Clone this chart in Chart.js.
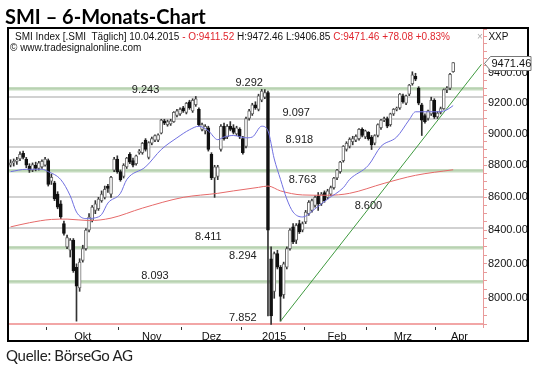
<!DOCTYPE html>
<html>
<head>
<meta charset="utf-8">
<script src="https://cdn.jsdelivr.net/npm/chart.js@4.4.1/dist/chart.umd.min.js"></script>
<style>
  body { margin: 0; background: #fff; }
  #wrap { position: relative; width: 540px; height: 365px; overflow: hidden; }
  #smiChart { position: absolute; left: 0; top: 0; }
  .txt { position: absolute; white-space: pre; line-height: 1; }
  #title { left: 5px; top: 4px; font: bold 20px Lato, sans-serif; color: #000; }
  #head1 { left: 15px; top: 31px; font: 10px "Liberation Sans", Arial, sans-serif; color: #111; }
  #head2 { left: 10px; top: 42px; font: 10px "Liberation Sans", Arial, sans-serif; color: #111; }
  #xxp { left: 477px; top: 31px; font: 10px "Liberation Sans", Arial, sans-serif; color: #111; }
  #xxp .x { color: #aaa; }
  #source { left: 6px; top: 346px; font: 15px Lato, sans-serif; color: #222; letter-spacing: -0.3px; }
  .red { color: #e0262e; }
</style>
</head>
<body>
<div id="wrap">
  <canvas id="smiChart" width="540" height="365"></canvas>
  <div id="title" class="txt">SMI – 6-Monats-Chart</div>
  <div id="head1" class="txt">SMI Index [.SMI  Täglich] 10.04.2015 <span class="red">- O:9411.52</span> H:9472.46 L:9406.85 <span class="red">C:9471.46 +78.08 +0.83%</span></div>
  <div id="head2" class="txt">© www.tradesignalonline.com</div>
  <div id="xxp" class="txt"><span class="x">×</span>  XXP</div>
  <div id="source" class="txt">Quelle: BörseGo AG</div>
</div>
<script>
// --- Handelstage (Kategorien) ---
const monthNames = ['', 'Okt', 'Nov', 'Dez', '2015', 'Feb', 'Mrz', 'Apr'];
const monthNums = ['09', '10', '11', '12', '01', '02', '03', '04'];
const monthDays = [
  [15,16,17,18,19,22,23,24,25,26,29,30],
  [1,2,3,6,7,8,9,10,13,14,15,16,17,20,21,22,23,24,27,28,29,30,31],
  [3,4,5,6,7,10,11,12,13,14,17,18,19,20,21,24,25,26,27,28],
  [1,2,3,4,5,8,9,10,11,12,15,16,17,18,19,22,23,29,30],
  [5,6,7,8,9,12,13,14,15,16,19,20,21,22,23,26,27,28,29,30],
  [2,3,4,5,6,9,10,11,12,13,16,17,18,19,20,23,24,25,26,27],
  [2,3,4,5,6,9,10,11,12,13,16,17,18,19,20,23,24,25,26,27,30,31],
  [1,2,7,8,9,10,13,14,15,16,17,20,21,22,23]
];

// --- Kerzen (OHLC) ---
const opens = [
  8800,8815,8825,8840,8875,8840,8795,8770,8800,8780,
  8790,8800,8830,8700,8690,8620,8560,8440,8300,8280,
  8340,8180,8060,8220,8290,8400,8460,8520,8530,8580,
  8600,8670,8620,8770,8840,8760,8730,8790,8870,8830,
  8810,8880,8880,8960,8850,8940,8960,8960,9005,9085,
  9060,9065,9080,9120,9130,9170,9140,9210,9150,9190,
  9160,9030,9020,9040,8870,8720,8730,8900,9050,8980,
  9050,9040,9000,9030,8970,8920,9100,9130,9190,9160,
  9220,9240,9270,8230,8040,8260,8180,8020,8180,8290,
  8420,8340,8440,8400,8450,8500,8520,8550,8610,8560,
  8630,8600,8620,8660,8720,8760,8830,8900,8920,8950,
  8960,8970,9030,8980,9010,8980,8940,8990,9040,9090,
  9100,9060,9130,9160,9170,9250,9200,9260,9330,9380,
  9300,9190,9120,9100,9130,9220,9110,9140,9165,9290,
  9300,9411.52
];
const highs = [
  8835,8840,8850,8885,8890,8850,8810,8815,8820,8825,
  8835,8850,8840,8745,8700,8635,8580,8455,8370,8350,
  8350,8200,8230,8310,8410,8500,8550,8580,8600,8640,
  8670,8680,8730,8850,8860,8770,8810,8850,8880,8845,
  8865,8900,8945,8970,8950,8980,8995,9000,9095,9095,
  9090,9095,9145,9160,9170,9180,9205,9220,9230,9245,
  9170,9070,9060,9050,8880,8800,8800,9060,9070,9060,
  9080,9060,9050,9040,8985,9110,9160,9200,9210,9260,
  9292,9290,9280,8300,8270,8280,8190,8210,8300,8410,
  8440,8440,8460,8450,8520,8580,8590,8610,8630,8630,
  8640,8650,8670,8725,8775,8825,8925,8950,8975,8985,
  8995,9035,9040,9025,9015,8990,8995,9065,9095,9110,
  9110,9135,9165,9175,9265,9260,9255,9325,9410,9400,
  9310,9200,9130,9155,9240,9230,9145,9175,9295,9310,
  9400,9472.46
];
const lows = [
  8790,8795,8805,8830,8840,8785,8755,8760,8765,8770,
  8780,8795,8670,8680,8580,8530,8470,8370,8290,8240,
  8150,7870,8040,8210,8280,8390,8450,8500,8520,8570,
  8590,8630,8600,8760,8750,8700,8720,8780,8810,8790,
  8800,8870,8870,8890,8840,8930,8950,8950,9000,9060,
  9050,9055,9075,9110,9120,9140,9130,9160,9140,9180,
  9050,9020,9000,8890,8710,8600,8710,8890,8960,8970,
  9020,9000,8990,8970,8870,8910,9090,9120,9160,9150,
  9210,9230,7900,7852,8000,8170,7870,8000,8170,8280,
  8320,8320,8380,8390,8440,8490,8510,8540,8520,8550,
  8570,8590,8610,8650,8710,8750,8820,8890,8910,8930,
  8950,8960,8980,8970,8960,8900,8930,8980,9030,9080,
  9040,9050,9120,9150,9160,9200,9190,9250,9320,9350,
  9190,8990,9070,9090,9120,9100,9100,9130,9160,9270,
  9290,9406.85
];
const closes = [
  8815,8825,8835,8870,8850,8800,8770,8805,8780,8815,
  8825,8840,8680,8725,8590,8540,8480,8380,8355,8340,
  8160,8070,8210,8290,8400,8480,8540,8560,8590,8620,
  8650,8655,8725,8840,8760,8710,8800,8845,8820,8800,
  8860,8890,8940,8900,8945,8970,8990,8995,9090,9070,
  9080,9085,9140,9150,9160,9150,9200,9170,9220,9230,
  9060,9060,9050,8900,8720,8790,8790,9050,8970,9050,
  9030,9010,9040,8980,8880,9100,9150,9190,9170,9250,
  9280,9270,8400,7900,8260,8180,8010,8200,8290,8400,
  8330,8430,8390,8440,8510,8570,8580,8600,8560,8620,
  8580,8640,8660,8720,8770,8820,8920,8940,8965,8970,
  8985,9030,8990,9020,8970,8930,8990,9060,9090,9100,
  9050,9130,9160,9165,9260,9210,9250,9320,9390,9360,
  9200,9090,9080,9150,9220,9110,9135,9165,9290,9300,
  9393.38,9471.46
];

// --- Gleitende Durchschnitte ---
const blueIdx = [0,5,10,12,16,19,21,24,27,29,31,35,37,43,48,53,57,60,63,66,68,71,75,77,80,82,84,86,88,90,93,97,101,106,108,114,118,123,127,129,133,136,139,141];
const blueVal = [8760,8775,8775,8760,8710,8610,8510,8470,8475,8495,8565,8625,8710,8790,8900,8975,9027,9050,9020,8963,8980,8990,8975,8980,9050,9020,8840,8711,8590,8510,8480,8530,8590,8660,8711,8800,8920,8980,9092,9144,9144,9144,9157,9185];
const redIdx = [0,6,13,18,25,32,42,55,66,71,79,82,86,93,101,108,119,129,141];
const redVal = [8420,8445,8465,8467,8458,8473,8534,8600,8625,8640,8662,8670,8640,8615,8613,8625,8687,8737,8772];
const trendIdx = [86, 150];
const trendVal = [7870, 9460];

// --- Horizontale Marken ---
const levelVals = [9292, 9243, 9097, 8918, 8763, 8600, 8411, 8294, 8093, 7852];
const levelKind = ['green','gray','gray','gray','green','gray','gray','green','green','red'];
const levelLabelIdx = [76, 43, 91, 92, 93, 114, 63, 74, 46, 74];
const levelLabelBelow = [false, false, false, false, true, true, true, true, false, false];

// --- Achse ---
const yLabelTicks = [8000, 8200, 8400, 8600, 8800, 9000, 9200, 9400];

const labels = [];
const monthStart = {};
const monthMid = {};
monthDays.forEach((days, m) => {
  const start = labels.length;
  days.forEach(d => labels.push(String(d).padStart(2, '0') + '.' + monthNums[m] + '.'));
  if (m > 0) monthStart[start] = true;
  if (monthNames[m]) monthMid[start + Math.floor(days.length / 2)] = monthNames[m];
});

const yTickMarks = [];
for (let v = 7850; v <= 9700; v += 50) yTickMarks.push(v);

const wicks = lows.map((l, i) => [l, highs[i]]);
const bodies = opens.map((o, i) => [o, closes[i]]);
const isUp = opens.map((o, i) => closes[i] >= o);
const bluePts = blueIdx.map((i, k) => ({ x: labels[i], y: blueVal[k] }));
const redPts = redIdx.map((i, k) => ({ x: labels[i], y: redVal[k] }));
const trendPts = trendIdx.map((i, k) => ({ x: labels[i], y: trendVal[k] }));

const FONT = '"Liberation Sans", Arial, sans-serif';
Chart.defaults.font.family = FONT;

const levelColors = { green: '#c6dcc0', gray: '#c2c2c2', red: '#f2a6a6' };
const levelWidths = { green: 3, gray: 1.5, red: 2 };

// Linien + Beschriftungen der Marken
const levelPlugin = {
  id: 'levels',
  beforeDatasetsDraw(chart) {
    const { ctx, chartArea: a, scales: { y } } = chart;
    ctx.save();
    levelVals.forEach((v, i) => {
      const py = Math.round(y.getPixelForValue(v));
      ctx.strokeStyle = levelColors[levelKind[i]];
      ctx.lineWidth = levelWidths[levelKind[i]];
      ctx.beginPath();
      ctx.moveTo(a.left, py);
      ctx.lineTo(a.right, py);
      ctx.stroke();
      if (levelKind[i] === 'green') {
        ctx.strokeStyle = '#a9c8a1';
        ctx.lineWidth = 1;
        ctx.beginPath();
        ctx.moveTo(a.left, py - 1);
        ctx.lineTo(a.right, py - 1);
        ctx.stroke();
      }
    });
    ctx.restore();
  },
  afterDatasetsDraw(chart) {
    const { ctx, scales: { x, y } } = chart;
    ctx.save();
    ctx.font = '11px ' + FONT;
    ctx.fillStyle = '#222';
    ctx.textAlign = 'center';
    levelVals.forEach((v, i) => {
      const px = x.getPixelForValue(levelLabelIdx[i]);
      const py = y.getPixelForValue(v);
      const txt = (v / 1000).toFixed(3);
      if (levelLabelBelow[i]) {
        ctx.textBaseline = 'top';
        ctx.fillText(txt, px, py + 3);
      } else {
        ctx.textBaseline = 'bottom';
        ctx.fillText(txt, px, py - 1);
      }
    });
    ctx.restore();
  },
  afterDraw(chart) {
    const { ctx, chartArea: a, scales: { y } } = chart;
    ctx.save();
    // Rahmen
    ctx.strokeStyle = '#000';
    ctx.lineWidth = 2;
    ctx.strokeRect(8, 28, 520, 313);
    // Kursmarke letzter Schluss
    const last = closes[closes.length - 1];
    const py = Math.round(y.getPixelForValue(last)) + 0.5;
    const x0 = a.right + 1.5;
    ctx.beginPath();
    ctx.moveTo(x0, py);
    ctx.lineTo(x0 + 6, py - 7);
    ctx.lineTo(531, py - 7);
    ctx.lineTo(531, py + 7);
    ctx.lineTo(x0 + 6, py + 7);
    ctx.closePath();
    ctx.fillStyle = '#fff';
    ctx.fill();
    ctx.strokeStyle = '#777';
    ctx.lineWidth = 1;
    ctx.stroke();
    ctx.fillStyle = '#111';
    ctx.font = '11px ' + FONT;
    ctx.textAlign = 'left';
    ctx.textBaseline = 'middle';
    ctx.fillText(last.toFixed(2), x0 + 7, py);
    ctx.restore();
  }
};

new Chart(document.getElementById('smiChart').getContext('2d'), {
  type: 'bar',
  data: {
    labels: labels,
    datasets: [
      {
        type: 'line', data: bluePts, borderColor: '#7070e0', borderWidth: 1,
        pointRadius: 0, cubicInterpolationMode: 'monotone', order: 0
      },
      {
        type: 'line', data: redPts, borderColor: '#e66a6a', borderWidth: 1,
        pointRadius: 0, cubicInterpolationMode: 'monotone', order: 0
      },
      {
        type: 'line', data: trendPts, borderColor: '#3f9a3f', borderWidth: 1,
        pointRadius: 0, tension: 0, order: 0
      },
      {
        data: bodies,
        backgroundColor: isUp.map(u => (u ? '#ffffff' : '#111111')),
        borderColor: isUp.map(u => (u ? '#6a6a6a' : '#111111')),
        borderWidth: 1, borderSkipped: false, barThickness: 3,
        minBarLength: 1, grouped: false, order: 1
      },
      {
        data: wicks, backgroundColor: '#333', barThickness: 1,
        grouped: false, order: 2
      }
    ]
  },
  options: {
    responsive: false,
    animation: false,
    devicePixelRatio: 1,
    layout: { padding: { left: 9, right: 0, top: 29, bottom: 23 } },
    plugins: { legend: { display: false }, tooltip: { enabled: false } },
    scales: {
      x: {
        type: 'category',
        offset: true,
        afterFit: s => { s.height = 15; },
        border: { display: false },
        grid: {
          drawOnChartArea: false,
          tickLength: 3,
          tickColor: c => (monthStart[c.index] ? '#333' : 'rgba(0,0,0,0)')
        },
        ticks: {
          autoSkip: false, maxRotation: 0, padding: 0,
          color: '#111', font: { size: 11 },
          callback: (v, i) => monthMid[i] || ''
        }
      },
      y: {
        type: 'logarithmic',
        position: 'right',
        min: 7837,
        max: 9703,
        afterFit: s => { s.width = 57; },
        afterBuildTicks: s => { s.ticks = yTickMarks.map(v => ({ value: v })); },
        border: { color: '#e89a9a' },
        grid: { drawOnChartArea: false, tickLength: 4, tickColor: '#e89a9a' },
        ticks: {
          autoSkip: false, padding: 1, color: '#111', font: { size: 11 },
          callback: v => (yLabelTicks.includes(v) ? v.toFixed(2) : '')
        }
      }
    }
  },
  plugins: [levelPlugin]
});
</script>
</body>
</html>
